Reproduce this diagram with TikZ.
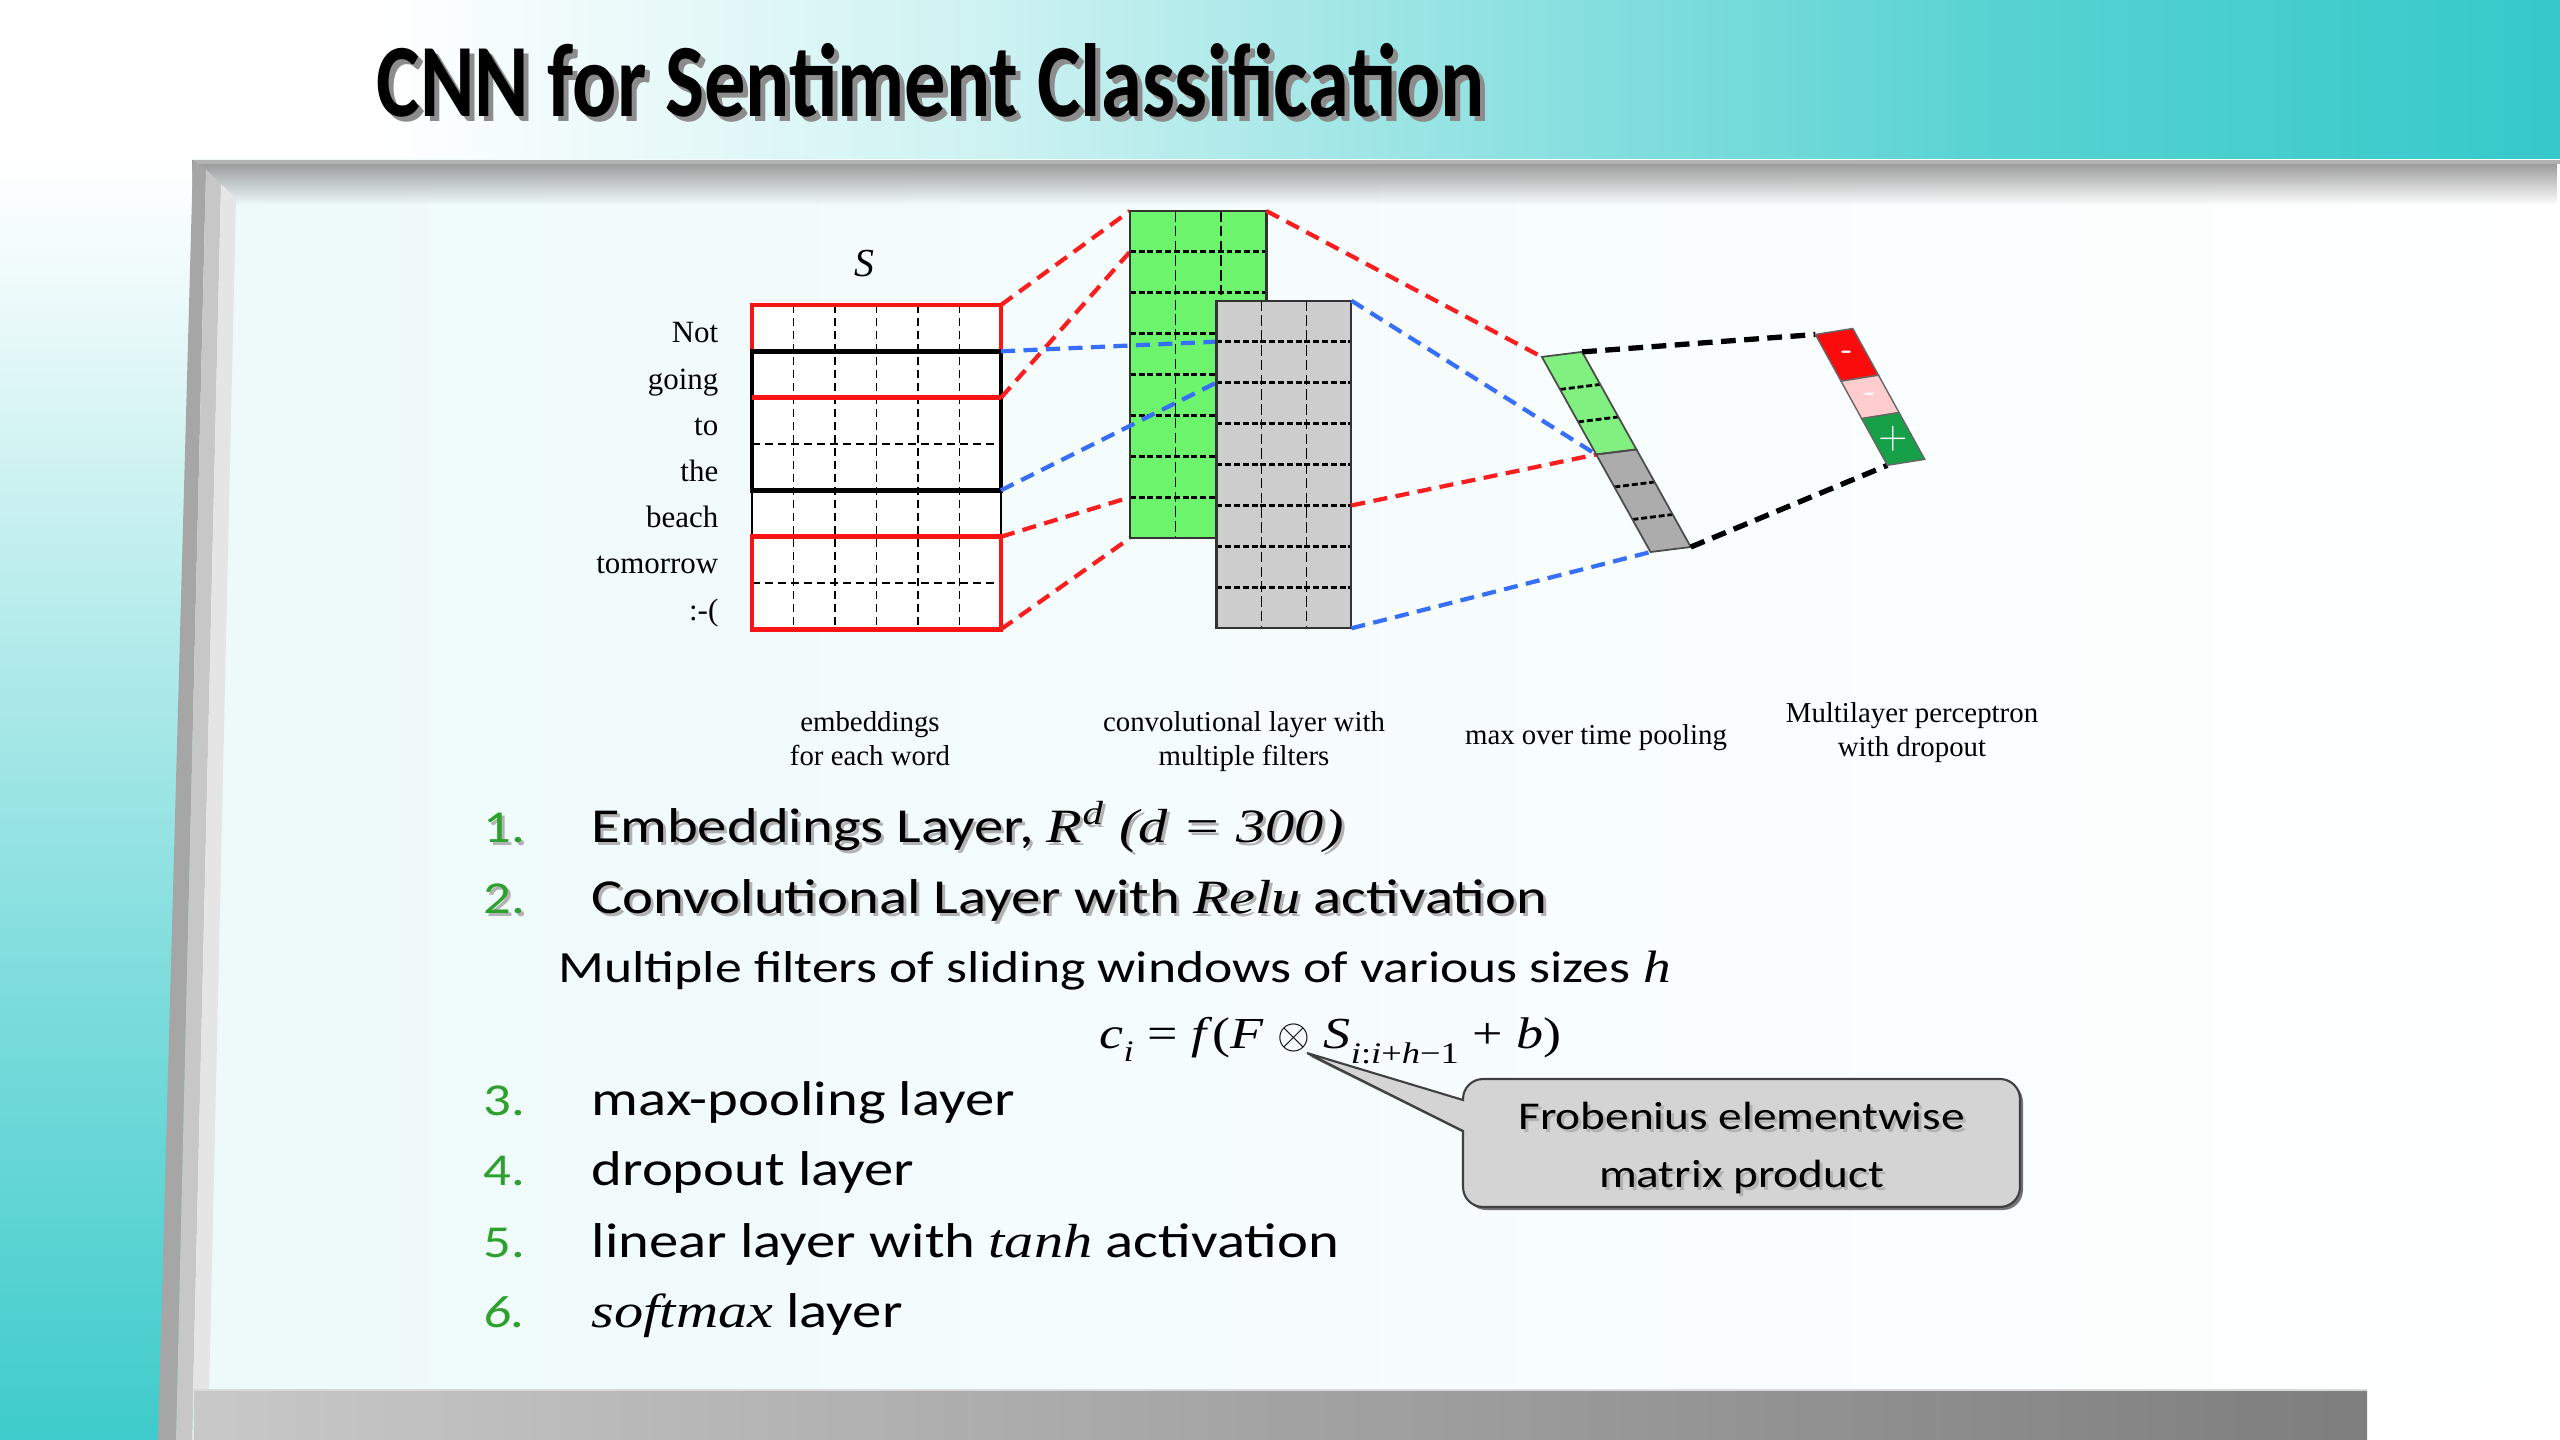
\documentclass[tikz,border=0pt]{standalone}
\usepackage{fontspec}
\setmainfont{Liberation Serif}
\newfontfamily\calfont[FakeStretch=1.2]{Carlito}
\newfontfamily\ttlfont{Carlito}
\newfontfamily\tmsw[FakeStretch=1.22]{Liberation Serif}
\usetikzlibrary{calc,fadings}
\definecolor{tealA}{RGB}{53,201,201}
\definecolor{panelL}{RGB}{238,250,250}
\definecolor{barL}{RGB}{200,200,200}
\definecolor{barR}{RGB}{126,126,126}
\definecolor{cgreen}{RGB}{108,245,108}
\definecolor{cgray}{RGB}{205,205,205}
\definecolor{pgreen}{RGB}{128,240,128}
\definecolor{pgray}{RGB}{172,172,172}
\definecolor{outred}{RGB}{250,12,12}
\definecolor{outpink}{RGB}{255,205,205}
\definecolor{outgreen}{RGB}{22,160,72}
\definecolor{redline}{RGB}{250,20,20}
\definecolor{dred}{RGB}{250,30,30}
\definecolor{dblue}{RGB}{55,110,250}
\definecolor{numgreen}{RGB}{45,160,45}
\definecolor{callfill}{RGB}{212,212,212}
\newcommand\ti[1]{{\tmsw\itshape\fontsize{13.6pt}{16pt}\selectfont #1}}
\newcommand\shadowed[4][]{%
  \node[#1, text=black!30] at ($(#3)+(3,3)$) {#4};
  \node[#1] (#2) at (#3) {#4};}
\begin{document}
\begin{tikzpicture}[x=0.01cm, y=-0.01cm,
  emgrid/.style={line width=0.5pt, dash pattern=on 2.3pt off 1.4pt},
  cvv/.style={line width=0.5pt, dash pattern=on 3pt off 1.2pt},
  cvh/.style={line width=0.8pt, dash pattern=on 1.7pt off 0.8pt},
  thickred/.style={draw=redline, line width=1.4pt},
  thickblk/.style={draw=black, line width=1.4pt},
  rconn/.style={draw=dred, line width=1.2pt, dash pattern=on 4pt off 2.4pt},
  bconn/.style={draw=dblue, line width=1.2pt, dash pattern=on 4pt off 2.4pt},
  kconn/.style={draw=black, line width=1.5pt, dash pattern=on 4.2pt off 2.4pt},
  word/.style={anchor=base east, inner sep=0pt, font=\fontsize{8.8pt}{10pt}\selectfont},
  capt/.style={anchor=base, inner sep=0pt, font=\fontsize{8.2pt}{10pt}\selectfont},
  item/.style={anchor=base west, inner sep=0pt, font=\calfont\fontsize{13.9pt}{16pt}\selectfont},
  num/.style={item, text=numgreen, font=\calfont\fontsize{13pt}{16pt}\selectfont},
  celltxt/.style={text=white, font=\sffamily\bfseries\fontsize{9pt}{9pt}\selectfont, inner sep=0pt}
]
\useasboundingbox (0,0) rectangle (2560,1440);
% ---------- background ----------
\fill[white] (0,0) rectangle (2560,1440);
\shade[left color=white, right color=tealA!25] (380,0) rectangle (1000,160);
\shade[left color=tealA!25, right color=tealA!55] (999,0) rectangle (1500,160);
\shade[left color=tealA!55, right color=tealA!83] (1499,0) rectangle (2000,160);
\shade[left color=tealA!83, right color=tealA] (1999,0) rectangle (2560,160);
\shade[top color=white, bottom color=tealA!8] (0,160) rectangle (200,280);
\shade[top color=tealA!8, bottom color=tealA!30] (0,279) rectangle (200,540);
\shade[top color=tealA!30, bottom color=tealA!65] (0,539) rectangle (200,1000);
\shade[top color=tealA!65, bottom color=tealA!95] (0,999) rectangle (200,1440);
% panel
\shade[left color=panelL, right color=white] (193,160) rectangle (2560,1440);
\fill[black!42, path fading=south] (193,160) rectangle (2560,205);
\fill[black!30] (193,160) rectangle (2560,164);
\fill[white] (2367,1390) rectangle (2560,1440);
% left bevel
\fill[black!35] (193,160) -- (206,170) -- (176,1440) -- (158,1440) -- cycle;
\fill[black!22] (206,170) -- (221,184) -- (192,1440) -- (176,1440) -- cycle;
\fill[black!10] (221,184) -- (236,198) -- (208,1440) -- (192,1440) -- cycle;
% bottom bar
\shade[left color=barL, right color=barR] (194,1390) rectangle (2367,1440);
\draw[white!85!black, line width=0.6pt] (194,1390) -- (2367,1390);
% ---------- title ----------
\node[anchor=base west, inner sep=0pt, text=black!45] at (381,122) {\resizebox{315.2pt}{20.8pt}{\ttlfont\bfseries CNN for Sentiment Classification}};
\node[anchor=base west, inner sep=0pt] (title) at (376,117) {\resizebox{315.2pt}{20.8pt}{\ttlfont\bfseries CNN for Sentiment Classification}};
% ---------- named coordinates ----------
\coordinate (eTR) at (1001,305);
\coordinate (eR1) at (1001,351.3);
\coordinate (eR2) at (1001,397.7);
\coordinate (eR4) at (1001,490.3);
\coordinate (eR5) at (1001,536.7);
\coordinate (eBR) at (1001,629.3);
\coordinate (gTL) at (1129.8,211);
\coordinate (gL1) at (1129.8,251.9);
\coordinate (gL7) at (1129.8,497.3);
\coordinate (gBL) at (1129.8,538.2);
\coordinate (gTR) at (1266.5,211);
\coordinate (yL1) at (1216.5,341.65);
\coordinate (yL2) at (1216.5,382.6);
\coordinate (yTR) at (1351.4,300.7);
\coordinate (yR5) at (1351.4,505.45);
\coordinate (yBR) at (1351.4,628.3);
\begin{scope}[shift={(15.41cm,-3.567cm)}, x={(0.402cm,0.05cm)}, y={(0.181cm,-0.325cm)}]
  \coordinate (pTL) at (0,0);
  \coordinate (pTR) at (1,0);
  \coordinate (pMid) at (0,3);
  \coordinate (pBL) at (0,6);
  \coordinate (pBR) at (1,6);
\end{scope}
\begin{scope}[shift={(18.143cm,-3.343cm)}, x={(0.374cm,0.06cm)}, y={(0.257cm,-0.467cm)}]
  \coordinate (oTL) at (0,0);
  \coordinate (oBL) at (0,2.8);
\end{scope}
% ---------- embedding matrix ----------
\fill[white] (752,305) rectangle (1001,629.3);
\foreach \c in {1,...,5} \draw[emgrid] ({752+41.5*\c},305) -- ({752+41.5*\c},629.3);
\draw[emgrid] (752,444) -- (1001,444);
\draw[emgrid] (752,583) -- (1001,583);
\draw[line width=0.5pt] (752,305) rectangle (1001,629.3);
\draw[thickred] (752,305) rectangle (1001,397.7);
\draw[thickblk] (752,351.3) rectangle (1001,490.3);
\draw[thickred] (752,397.7) -- (1001,397.7);
\draw[thickred] (752,536.7) rectangle (1001,629.3);
\node[anchor=base, inner sep=0pt, font=\itshape\fontsize{11.3pt}{12pt}\selectfont] (S) at (864,277) {S};
\foreach \w [count=\k from 0] in {Not,going,to,the,beach,tomorrow,:-(}
  \node[word] (w\k) at (719,{343+46.2*\k}) {\w};
% ---------- connectors into green map ----------
\draw[rconn] (eTR) -- (gTL);
\draw[rconn] (eR2) -- (gL1);
\draw[rconn] (eR5) -- (gL7);
\draw[rconn] (eBR) -- (gBL);
% ---------- green feature map ----------
\fill[cgreen] (1129.8,211) rectangle (1266.5,538.2);
\foreach \c in {1,2} \draw[cvv] ({1129.8+45.57*\c},211) -- ({1129.8+45.57*\c},538.2);
\foreach \r in {1,...,7} \draw[cvh] (1129.8,{211+40.9*\r}) -- (1266.5,{211+40.9*\r});
\draw[line width=0.6pt, black!80] (1129.8,211) rectangle (1266.5,538.2);
\draw[rconn] (gTR) -- (pTL);
\draw[bconn] (eR1) -- (yL1);
\draw[bconn] (eR4) -- (yL2);
% ---------- gray feature map ----------
\fill[cgray] (1216.5,300.7) rectangle (1351.4,628.3);
\foreach \c in {1,2} \draw[cvv] ({1216.5+44.97*\c},300.7) -- ({1216.5+44.97*\c},628.3);
\foreach \r in {1,...,7} \draw[cvh] (1216.5,{300.7+40.95*\r}) -- (1351.4,{300.7+40.95*\r});
\draw[line width=0.6pt, black!80] (1216.5,300.7) rectangle (1351.4,628.3);
\draw[rconn] (yR5) -- (pMid);
\draw[bconn] (yTR) -- (pMid);
\draw[bconn] (yBR) -- (pBL);
% ---------- pooled vector ----------
\begin{scope}[shift={(15.41cm,-3.567cm)}, x={(0.402cm,0.05cm)}, y={(0.181cm,-0.325cm)}]
  \fill[pgreen] (0,0) -- (1,0) -- (1,3) -- (0,3) -- cycle;
  \fill[pgray] (0,3) -- (1,3) -- (1,6) -- (0,6) -- cycle;
  \foreach \r in {1,2,4,5} \draw[cvh] (0,\r) -- (1,\r);
  \draw[line width=0.5pt, black!70] (0,0) -- (1,0) -- (1,3) -- (0,3) -- cycle;
  \draw[line width=0.5pt, black!70] (0,3) -- (1,3) -- (1,6) -- (0,6) -- cycle;
\end{scope}
% ---------- output ----------
\draw[kconn] (pTR) -- (oTL);
\draw[kconn] (pBR) -- (oBL);
\begin{scope}[shift={(18.143cm,-3.343cm)}, x={(0.374cm,0.06cm)}, y={(0.257cm,-0.467cm)}]
  \filldraw[fill=outred, draw=black!60, line width=0.4pt] (0,0) -- (1,0) -- (1,1) -- (0,1) -- cycle;
  \filldraw[fill=outpink, draw=black!60, line width=0.4pt] (0,1) -- (1,1) -- (1,1.8) -- (0,1.8) -- cycle;
  \filldraw[fill=outgreen, draw=black!60, line width=0.4pt] (0,1.8) -- (1,1.8) -- (1,2.8) -- (0,2.8) -- cycle;
  \node[celltxt] (om) at (0.5,0.5) {-};
  \node[celltxt] (op) at (0.5,1.4) {-};
  \node[celltxt, font=\sffamily\fontsize{11pt}{11pt}\selectfont] (og) at (0.5,2.3) {+};
\end{scope}
% ---------- captions ----------
\node[capt] (c1a) at (870,732) {embeddings};
\node[capt] (c1b) at (870,766) {for each word};
\node[capt] (c2a) at (1244,732) {convolutional layer with};
\node[capt] (c2b) at (1244,766) {multiple filters};
\node[capt] (c3) at (1596,745) {max over time pooling};
\node[capt] (c4a) at (1912,723) {Multilayer perceptron};
\node[capt] (c4b) at (1912,757) {with dropout};
% ---------- list ----------
\shadowed[num]{n1}{483,843}{1.}
\shadowed[item]{t1}{591,843}{Embeddings Layer, \ti{R\textsuperscript{d} (d = 300)}}
\shadowed[num]{n2}{483,913}{2.}
\shadowed[item]{t2}{591,913}{Convolutional Layer with \ti{Relu} activation}
\node[item, font=\calfont\fontsize{12.7pt}{15pt}\selectfont] (t2b) at (558,982) {Multiple filters of sliding windows of various sizes {\tmsw\itshape\fontsize{12.9pt}{15pt}\selectfont h}};
\node[anchor=base west, inner sep=0pt, font=\tmsw\fontsize{12.6pt}{15pt}\selectfont] (eq) at (1099,1048)
  {\textit{c}\raisebox{-0.3em}{\fontsize{8.5pt}{9pt}\selectfont\textit{i}} = \textit{f}(\textit{F} $\otimes$ \textit{S}\raisebox{-0.35em}{\fontsize{8.5pt}{9pt}\selectfont\textit{i}:\textit{i}+\textit{h}−1} + \textit{b})};
\node[num] (n3) at (483,1115) {3.};
\node[item] (t3) at (591,1115) {max-pooling layer};
\node[num] (n4) at (483,1185) {4.};
\node[item] (t4) at (591,1185) {dropout layer};
\node[num] (n5) at (483,1257) {5.};
\node[item] (t5) at (591,1257) {linear layer with \ti{tanh} activation};
\node[num] (n6) at (483,1327) {\itshape 6.};
\node[item] (t6) at (591,1327) {\ti{softmax} layer};
% ---------- callout ----------
\coordinate (tip) at (1307,1053);
\fill[black!55] (1466,1103) -- ($(tip)+(2,3)$) -- (1466,1134) [rounded corners=5.7pt] -- (1466,1210) -- (2023,1210) -- (2023,1082) -- (1466,1082) [sharp corners] -- cycle;
\filldraw[fill=callfill, draw=black!75, line width=0.6pt] (1463,1100) -- (tip) -- (1463,1131) [rounded corners=5.7pt] -- (1463,1207) -- (2020,1207) -- (2020,1079) -- (1463,1079) [sharp corners] -- cycle;
\node[anchor=base, inner sep=0pt, font=\calfont\fontsize{11.2pt}{13pt}\selectfont, text=black!30] at (1744.6,1132) {Frobenius elementwise};
\node[anchor=base, inner sep=0pt, font=\calfont\fontsize{11.2pt}{13pt}\selectfont] (call1) at (1741.6,1129) {Frobenius elementwise};
\node[anchor=base, inner sep=0pt, font=\calfont\fontsize{11.2pt}{13pt}\selectfont, text=black!30] at (1744.6,1190) {matrix product};
\node[anchor=base, inner sep=0pt, font=\calfont\fontsize{11.2pt}{13pt}\selectfont] (call2) at (1741.6,1187) {matrix product};
\end{tikzpicture}
\end{document}
